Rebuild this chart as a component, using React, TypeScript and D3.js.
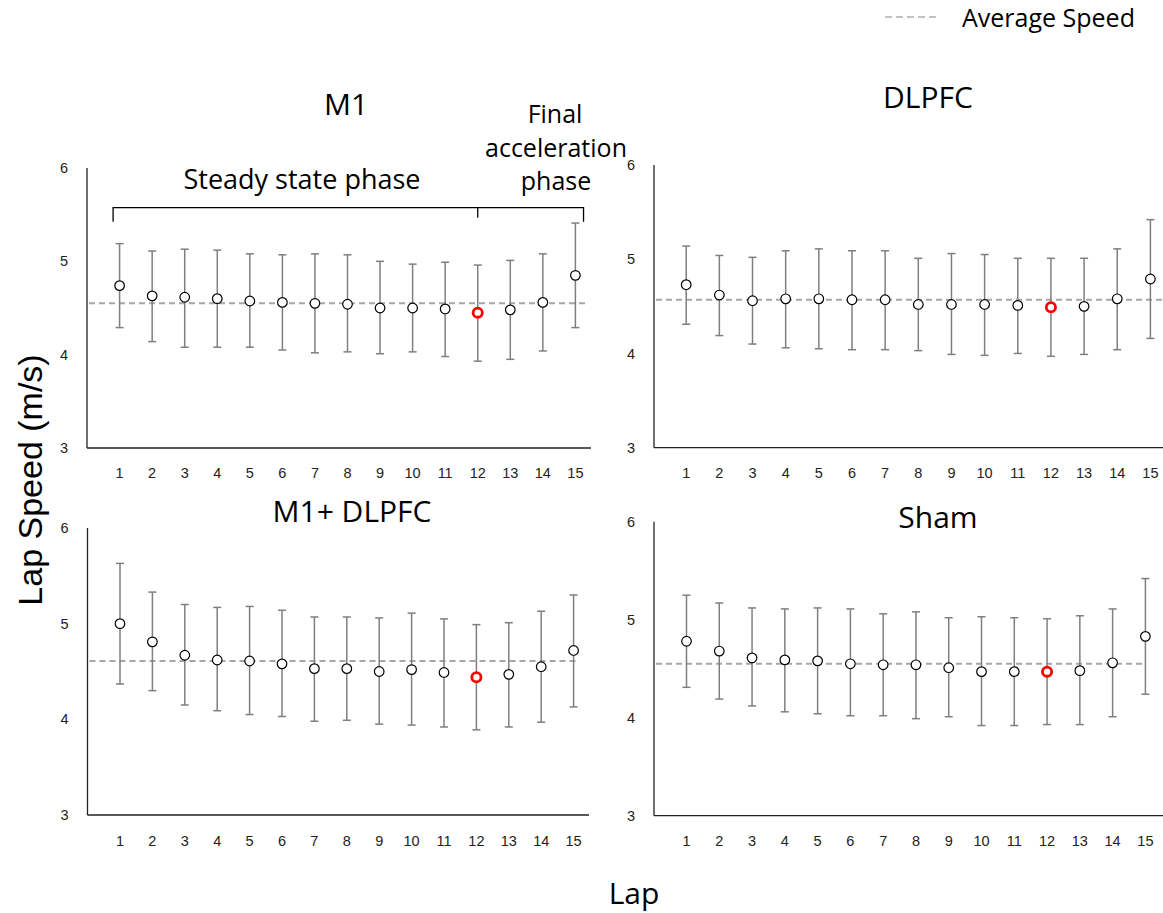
import React from "react";
import * as d3 from "d3";

const laps = [1, 2, 3, 4, 5, 6, 7, 8, 9, 10, 11, 12, 13, 14, 15];
const yTicks = [3, 4, 5, 6];

const m1Mean = [4.74, 4.63, 4.615, 4.6, 4.575, 4.56, 4.55, 4.54, 4.5, 4.5, 4.49, 4.45, 4.48, 4.56, 4.85];
const m1Upper = [5.19, 5.11, 5.13, 5.12, 5.08, 5.07, 5.08, 5.07, 5.0, 4.97, 4.99, 4.96, 5.01, 5.08, 5.41];
const m1Lower = [4.29, 4.14, 4.08, 4.08, 4.08, 4.05, 4.02, 4.03, 4.01, 4.03, 3.98, 3.93, 3.95, 4.04, 4.29];
const m1Avg = 4.55;

const dlpfcMean = [4.73, 4.62, 4.56, 4.58, 4.58, 4.57, 4.57, 4.52, 4.52, 4.52, 4.51, 4.49, 4.5, 4.58, 4.79];
const dlpfcUpper = [5.14, 5.04, 5.02, 5.09, 5.11, 5.09, 5.09, 5.01, 5.06, 5.05, 5.01, 5.01, 5.01, 5.11, 5.42];
const dlpfcLower = [4.31, 4.19, 4.1, 4.06, 4.05, 4.04, 4.04, 4.03, 3.99, 3.98, 4.0, 3.97, 3.99, 4.04, 4.16];
const dlpfcAvg = 4.57;

const comboMean = [5.0, 4.81, 4.67, 4.62, 4.61, 4.58, 4.53, 4.53, 4.5, 4.52, 4.49, 4.44, 4.47, 4.55, 4.72];
const comboUpper = [5.63, 5.33, 5.2, 5.17, 5.18, 5.14, 5.07, 5.07, 5.06, 5.11, 5.05, 4.99, 5.01, 5.13, 5.3];
const comboLower = [4.37, 4.3, 4.15, 4.09, 4.05, 4.03, 3.98, 3.99, 3.95, 3.94, 3.92, 3.89, 3.92, 3.97, 4.13];
const comboAvg = 4.61;

const shamMean = [4.78, 4.68, 4.61, 4.59, 4.58, 4.55, 4.54, 4.54, 4.51, 4.47, 4.47, 4.47, 4.48, 4.56, 4.83];
const shamUpper = [5.25, 5.17, 5.12, 5.11, 5.12, 5.11, 5.06, 5.08, 5.02, 5.03, 5.02, 5.01, 5.04, 5.11, 5.42];
const shamLower = [4.31, 4.19, 4.12, 4.06, 4.04, 4.02, 4.02, 3.99, 4.01, 3.92, 3.92, 3.93, 3.93, 4.01, 4.24];
const shamAvg = 4.55;

const highlightLap = 12;

const FONT = "'Open Sans', 'Noto Sans', sans-serif";
const TICKFONT = "'Liberation Sans', Arial, sans-serif";

type PanelProps = {
  title: string;
  mean: number[];
  upper: number[];
  lower: number[];
  avg: number;
  axisX: number;
  axisEnd: number;
  lap1X: number;
  lap15X: number;
  yTop: number;
  yBottom: number;
  avgEnd: number;
  titleX: number;
  titleY: number;
  labelY: number;
};

function Panel(p: PanelProps) {
  const x = d3.scaleLinear().domain([1, 15]).range([p.lap1X, p.lap15X]);
  const y = d3.scaleLinear().domain([3, 6]).range([p.yBottom, p.yTop]);
  const capW = 4;
  return (
    <g>
      <text x={p.titleX} y={p.titleY} textAnchor="middle" fontSize={30} fontFamily={FONT} fill="#000">
        {p.title}
      </text>
      <line x1={p.axisX} x2={p.axisX} y1={y(6)} y2={y(3)} stroke="#222" strokeWidth={1.3} />
      <line x1={p.axisX} x2={p.axisEnd} y1={y(3)} y2={y(3)} stroke="#222" strokeWidth={1.3} />
      {yTicks.map((t) => (
        <text key={t} x={p.axisX - 19} y={y(t)} dy="0.35em" textAnchor="end" fontSize={14.5} fontFamily={TICKFONT} fill="#222">
          {t}
        </text>
      ))}
      {laps.map((l) => (
        <text key={l} x={x(l)} y={p.labelY} dy="0.35em" textAnchor="middle" fontSize={14.5} fontFamily={TICKFONT} fill="#222">
          {l}
        </text>
      ))}
      <line
        x1={p.axisX + 2}
        x2={p.avgEnd}
        y1={y(p.avg)}
        y2={y(p.avg)}
        stroke="#a6a6a6"
        strokeWidth={2}
        strokeDasharray="6 4"
      />
      {laps.map((l, i) => (
        <g key={"e" + l} stroke="#7f7f7f" strokeWidth={1.5}>
          <line x1={x(l)} x2={x(l)} y1={y(p.upper[i])} y2={y(p.lower[i])} />
          <line x1={x(l) - capW} x2={x(l) + capW} y1={y(p.upper[i])} y2={y(p.upper[i])} />
          <line x1={x(l) - capW} x2={x(l) + capW} y1={y(p.lower[i])} y2={y(p.lower[i])} />
        </g>
      ))}
      {laps.map((l, i) =>
        l === highlightLap ? (
          <circle key={"m" + l} cx={x(l)} cy={y(p.mean[i])} r={4.6} fill="#fff" stroke="#ff0000" strokeWidth={2.8} />
        ) : (
          <circle key={"m" + l} cx={x(l)} cy={y(p.mean[i])} r={4.8} fill="#fff" stroke="#000" strokeWidth={1.2} />
        )
      )}
    </g>
  );
}

function Bracket() {
  const x = d3.scaleLinear().domain([1, 15]).range([119.6, 575.4]);
  const y = d3.scaleLinear().domain([3, 6]).range([448, 168]);
  const top = y(5.575);
  const left = x(0.8);
  const right = x(15.25);
  const mid = x(12);
  return (
    <g stroke="#000" strokeWidth={1.3} fill="none">
      <path d={`M${left},${top + 14}V${top}H${right}V${top + 14}`} />
      <line x1={mid} x2={mid} y1={top} y2={top + 10} />
    </g>
  );
}

export default function App() {
  return (
    <svg width={1163} height={913} style={{ position: "absolute", left: 0, top: 0, background: "#fff" }}>
      <rect width={1163} height={913} fill="#fff" />
      <line x1={885} x2={938} y1={17} y2={17} stroke="#b0b0b0" strokeWidth={1.5} strokeDasharray="7 4" />
      <text x={962} y={27} fontSize={25} fontFamily={FONT} fill="#000">
        Average Speed
      </text>

      <Panel
        title="M1"
        mean={m1Mean}
        upper={m1Upper}
        lower={m1Lower}
        avg={m1Avg}
        axisX={87}
        axisEnd={591}
        lap1X={119.6}
        lap15X={575.4}
        yTop={168}
        yBottom={448}
        avgEnd={589}
        titleX={346}
        titleY={115}
        labelY={473}
      />
      <Panel
        title="DLPFC"
        mean={dlpfcMean}
        upper={dlpfcUpper}
        lower={dlpfcLower}
        avg={dlpfcAvg}
        axisX={654}
        axisEnd={1163}
        lap1X={686.2}
        lap15X={1150.4}
        yTop={165}
        yBottom={447.7}
        avgEnd={1163}
        titleX={928}
        titleY={108}
        labelY={473}
      />
      <Panel
        title="M1+ DLPFC"
        mean={comboMean}
        upper={comboUpper}
        lower={comboLower}
        avg={comboAvg}
        axisX={87.5}
        axisEnd={589}
        lap1X={120}
        lap15X={573.6}
        yTop={528}
        yBottom={815}
        avgEnd={579}
        titleX={352}
        titleY={522}
        labelY={841}
      />
      <Panel
        title="Sham"
        mean={shamMean}
        upper={shamUpper}
        lower={shamLower}
        avg={shamAvg}
        axisX={654}
        axisEnd={1163}
        lap1X={686.5}
        lap15X={1145.4}
        yTop={521.7}
        yBottom={815.7}
        avgEnd={1144}
        titleX={938}
        titleY={528}
        labelY={841}
      />

      <Bracket />
      <text x={302} y={189} textAnchor="middle" fontSize={27} fontFamily={FONT} fill="#000">
        Steady state phase
      </text>
      <text x={555} y={123} textAnchor="middle" fontSize={25} fontFamily={FONT} fill="#000">
        Final
      </text>
      <text x={556} y={157} textAnchor="middle" fontSize={25} fontFamily={FONT} fill="#000">
        acceleration
      </text>
      <text x={556} y={190} textAnchor="middle" fontSize={25} fontFamily={FONT} fill="#000">
        phase
      </text>

      <text
        transform="translate(42,480) rotate(-90)"
        textAnchor="middle"
        fontSize={34}
        fontFamily={TICKFONT}
        fill="#000"
      >
        Lap Speed (m/s)
      </text>
      <text x={634} y={904} textAnchor="middle" fontSize={30} fontFamily={FONT} fill="#000">
        Lap
      </text>
    </svg>
  );
}
